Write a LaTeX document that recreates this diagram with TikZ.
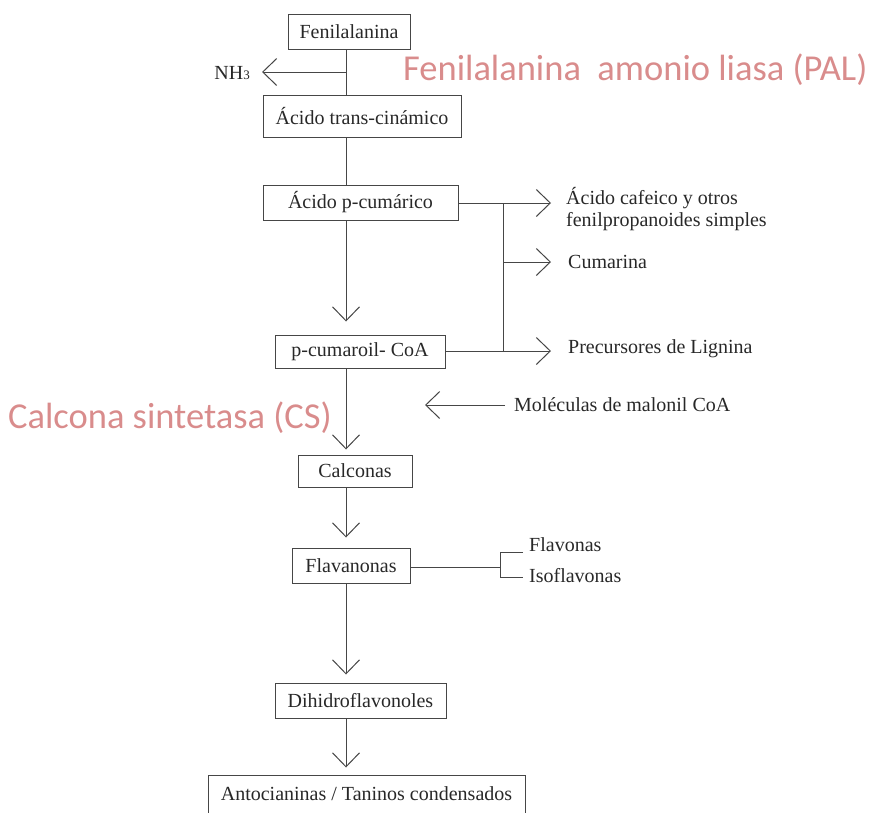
\documentclass[tikz,border=0pt]{standalone}
\usepackage{fontspec}
\setmainfont{Liberation Serif}
\newfontfamily\pinkfont{Carlito}
\usetikzlibrary{arrows.meta,calc}
\definecolor{ln}{RGB}{70,70,70}
\definecolor{tx}{RGB}{40,40,40}
\definecolor{pk}{RGB}{217,140,140}
\begin{document}
\begin{tikzpicture}[x=1pt,y=-1pt,
  box/.style={draw=ln,line width=1pt,inner sep=0pt,text=tx,font=\fontsize{20}{22}\selectfont},
  lbl/.style={inner sep=0pt,anchor=west,text=tx,align=left,font=\fontsize{20}{22}\selectfont},
  pinklbl/.style={inner sep=0pt,text=pk,font=\pinkfont\fontsize{36.5}{40}\selectfont},
  ln/.style={draw=ln,line width=1pt},
  arr/.style={ln,-{Straight Barb[length=14pt,width=27pt,line width=1pt]}}]
\useasboundingbox (0,0) rectangle (870,812);
\coordinate (sp) at (346,0);
% boxes
\node[box,minimum width=122pt,minimum height=35pt] (fen) at (349,32) {Fenilalanina};
\node[box,minimum width=198pt,minimum height=42pt] (tca) at (362,116) {Ácido trans-cinámico};
\node[box,minimum width=195pt,minimum height=35pt] (pcu) at (360.5,202.5) {Ácido p-cumárico};
\node[box,minimum width=170pt,minimum height=33pt] (pco) at (360,351.5) {p-cumaroil- CoA};
\node[box,minimum width=114pt,minimum height=32pt] (cal) at (355,471) {Calconas};
\node[box,minimum width=118pt,minimum height=35pt] (fla) at (351,565.5) {Flavanonas};
\node[box,minimum width=171pt,minimum height=35pt] (dih) at (360.5,700.5) {Dihidroflavonoles};
\node[box,minimum width=317pt,minimum height=44pt] (ant) at (366.5,797) {\raisebox{6pt}{Antocianinas / Taninos condensados}};
% labels
\node[lbl,anchor=east] (nh3) at (250,73) {NH{\fontsize{13}{13}\selectfont 3}};
\node[pinklbl,anchor=west] (pal) at (403,70) {Fenilalanina\ \ amonio liasa (PAL)};
\node[pinklbl,anchor=west] (cs) at (8,418) {Calcona sintetasa (CS)};
\node[lbl] (caf) at (566,209) {Ácido cafeico y otros\\fenilpropanoides simples};
\node[lbl] (cum) at (568,262) {Cumarina};
\node[lbl] (pre) at (568,349) {Precursores de Lignina};
\node[lbl] (mal) at (514,405) {Moléculas de malonil CoA};
\node[lbl] (flv) at (529,545) {Flavonas};
\node[lbl] (iso) at (529,576) {Isoflavonas};
% coordinates
\coordinate (j1) at (346,72);
\coordinate (b1) at (503,203);
\coordinate (b2) at (503,262);
\coordinate (b3) at (503,351);
\coordinate (t1) at (551,203);
\coordinate (t2) at (551,262);
\coordinate (t3) at (551,351);
\coordinate (m1) at (505,405);
\coordinate (m2) at (425,405);
\coordinate (f1) at (500,567);
\coordinate (f2) at (500,552);
\coordinate (f3) at (500,577);
\coordinate (f4) at (523,552);
\coordinate (f5) at (523,577);
% main spine
\draw[ln] (fen.south -| sp) -- (tca.north -| sp);
\draw[arr] (j1) -- (262,72);
\draw[ln] (tca.south -| sp) -- (pcu.north -| sp);
\draw[arr] (pcu.south -| sp) -- ([yshift=13pt]pco.north -| sp);
\draw[arr] (pco.south -| sp) -- ([yshift=5pt]cal.north -| sp);
\draw[arr] (cal.south -| sp) -- ([yshift=10pt]fla.north -| sp);
\draw[arr] (fla.south -| sp) -- ([yshift=8pt]dih.north -| sp);
\draw[arr] (dih.south -| sp) -- ([yshift=7pt]ant.north -| sp);
% branches
\draw[arr] (pcu.east |- b1) -- (t1);
\draw[ln] (b1) -- (b3);
\draw[arr] (b2) -- (t2);
\draw[arr] (pco.east |- b3) -- (t3);
\draw[arr] (m1) -- (m2);
\draw[ln] (fla.east |- f1) -- (f1);
\draw[ln] (f4) -- (f2) -- (f3) -- (f5);
\end{tikzpicture}
\end{document}
